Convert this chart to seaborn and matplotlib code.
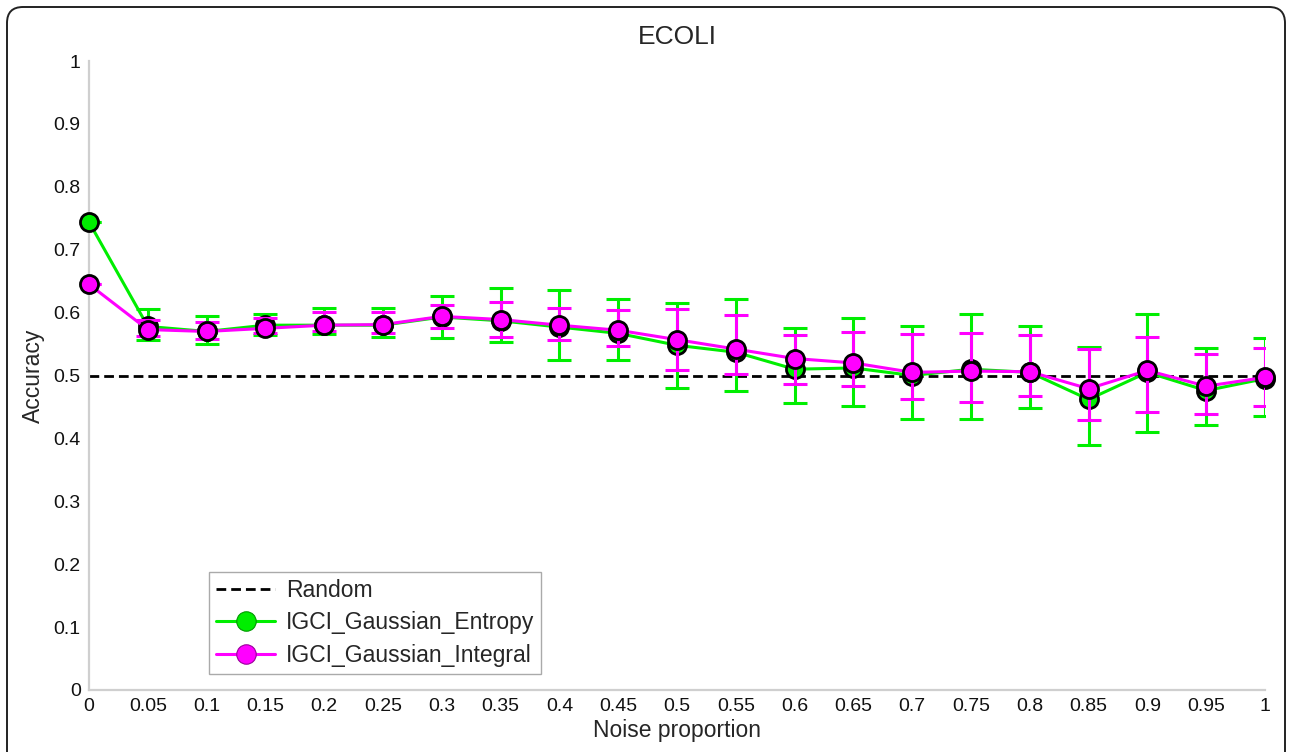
import matplotlib.pyplot as plt
import matplotlib.transforms as mtransforms
from matplotlib.lines import Line2D
from matplotlib.patches import FancyBboxPatch
import numpy as np
import pandas as pd
import seaborn as sns

# data
noise = [0, 0.05, 0.1, 0.15, 0.2, 0.25, 0.3, 0.35, 0.4, 0.45, 0.5,
         0.55, 0.6, 0.65, 0.7, 0.75, 0.8, 0.85, 0.9, 0.95, 1]
x_labels = ['0', '0.05', '0.1', '0.15', '0.2', '0.25', '0.3', '0.35', '0.4', '0.45', '0.5',
            '0.55', '0.6', '0.65', '0.7', '0.75', '0.8', '0.85', '0.9', '0.95', '1']
y_ticks = [0, 0.1, 0.2, 0.3, 0.4, 0.5, 0.6, 0.7, 0.8, 0.9, 1]
y_labels = ['0', '0.1', '0.2', '0.3', '0.4', '0.5', '0.6', '0.7', '0.8', '0.9', '1']

entropy_acc = [0.744, 0.578, 0.570, 0.580, 0.580, 0.580, 0.593, 0.587, 0.577, 0.567, 0.548,
               0.537, 0.510, 0.512, 0.500, 0.510, 0.505, 0.462, 0.505, 0.476, 0.495]
entropy_lo = [0.744, 0.556, 0.550, 0.564, 0.566, 0.562, 0.559, 0.553, 0.525, 0.525, 0.480,
              0.475, 0.456, 0.452, 0.431, 0.431, 0.449, 0.389, 0.410, 0.421, 0.436]
entropy_hi = [0.744, 0.606, 0.594, 0.597, 0.608, 0.607, 0.626, 0.639, 0.636, 0.622, 0.616,
              0.622, 0.576, 0.591, 0.578, 0.597, 0.578, 0.545, 0.598, 0.544, 0.559]

integral_acc = [0.645, 0.573, 0.570, 0.575, 0.580, 0.581, 0.594, 0.589, 0.580, 0.572, 0.557,
                0.542, 0.527, 0.520, 0.505, 0.507, 0.506, 0.479, 0.508, 0.483, 0.497]
integral_lo = [0.645, 0.563, 0.558, 0.568, 0.570, 0.567, 0.575, 0.562, 0.556, 0.547, 0.508,
               0.503, 0.486, 0.484, 0.463, 0.458, 0.468, 0.429, 0.442, 0.438, 0.452]
integral_hi = [0.645, 0.589, 0.585, 0.592, 0.601, 0.601, 0.612, 0.617, 0.608, 0.604, 0.606,
               0.596, 0.564, 0.569, 0.566, 0.567, 0.564, 0.542, 0.561, 0.534, 0.544]

random_acc = 0.5

green = '#00ee00'
magenta = '#ff00ff'

sns.set_style('white')
plt.rcParams['font.family'] = ['Liberation Sans', 'DejaVu Sans']

fig = plt.figure(figsize=(12.92, 7.52), dpi=100)
ax = fig.add_axes([89 / 1292, 62 / 752, 1176 / 1292, 629 / 752])

# random baseline
sns.lineplot(x=noise, y=[random_acc] * len(noise), ax=ax, color='black',
             linewidth=2, linestyle=(0, (3.5, 1.8)), zorder=1)

series = [
    ('IGCI_Gaussian_Entropy', entropy_acc, entropy_lo, entropy_hi, green, 2),
    ('IGCI_Gaussian_Integral', integral_acc, integral_lo, integral_hi, magenta, 4),
]
for name, acc, lo, hi, col, z in series:
    acc = np.array(acc)
    yerr = [acc - np.array(lo), np.array(hi) - acc]
    ax.errorbar(noise, acc, yerr=yerr, fmt='none', ecolor=col, elinewidth=2.2,
                capsize=8.3, capthick=2.2, zorder=z)
    df = pd.DataFrame({'noise': noise, 'acc': acc})
    sns.lineplot(data=df, x='noise', y='acc', ax=ax, color=col, linewidth=2.2,
                 marker='o', markersize=13, markerfacecolor=col,
                 markeredgecolor='black', markeredgewidth=2,
                 zorder=z + 1, clip_on=False)

ax.set_xlim(0, 1)
ax.set_ylim(0, 1)
ax.set_xticks(noise)
ax.set_xticklabels(x_labels)
ax.set_yticks(y_ticks)
ax.set_yticklabels(y_labels)

# MATLAB-like ticks: gray stub with a black tip
for axis, locs in ((ax.xaxis, noise), (ax.yaxis, y_ticks)):
    axis.remove_overlapping_locs = False
    axis.set_ticks(locs, minor=True)
ax.tick_params(which='major', direction='in', length=13, width=1.3, color='black',
               labelsize=14, pad=6, labelcolor='#111111')
ax.tick_params(which='minor', direction='in', length=10.5, width=1.6, color='#cfcfcf')

for s in ('top', 'right'):
    ax.spines[s].set_visible(False)
for s in ('left', 'bottom'):
    ax.spines[s].set_color('#cfcfcf')
    ax.spines[s].set_linewidth(1.6)

ax.set_title('ECOLI', fontsize=19, pad=12)
ax.set_xlabel('Noise proportion', fontsize=16.5, labelpad=3)
ax.set_ylabel('Accuracy', fontsize=16.5, labelpad=6)

handles = [
    Line2D([], [], color='black', linewidth=2, linestyle=(0, (3.5, 1.8))),
    Line2D([], [], color=green, linewidth=2.2, marker='o', markersize=14,
           markerfacecolor=green, markeredgecolor='#009900', markeredgewidth=0.8),
    Line2D([], [], color=magenta, linewidth=2.2, marker='o', markersize=14,
           markerfacecolor=magenta, markeredgecolor='#990099', markeredgewidth=0.8),
]
leg = ax.legend(handles, ['Random', 'IGCI_Gaussian_Entropy', 'IGCI_Gaussian_Integral'],
                loc='upper left', bbox_to_anchor=(0.102, 0.1876),
                fontsize=16.5, handlelength=2.6, handletextpad=0.45,
                labelspacing=0.42, borderpad=0.3, fancybox=False, framealpha=1,
                edgecolor='#aaaaaa', borderaxespad=0)
leg.get_frame().set_linewidth(1.0)

# rounded outer frame of the image
frame = FancyBboxPatch((7, -40), 1278, 785, boxstyle='round,pad=0,rounding_size=16',
                       transform=mtransforms.IdentityTransform(), fill=False,
                       edgecolor='#222222', linewidth=1.4)
fig.patches.append(frame)

fig.savefig('out.png', dpi=100)
